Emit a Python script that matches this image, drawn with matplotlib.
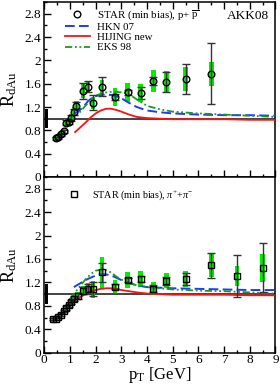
import matplotlib
matplotlib.use("Agg")
import matplotlib.pyplot as plt
from matplotlib.ticker import MultipleLocator, FuncFormatter

plt.rcParams['font.family'] = ['Liberation Serif', 'DejaVu Serif']
plt.rcParams['mathtext.fontset'] = 'custom'
plt.rcParams['mathtext.rm'] = 'Liberation Serif'
plt.rcParams['mathtext.it'] = 'Liberation Serif:italic'

# ---------------- data: top panel (p + pbar) ----------------
p_pt = [0.45, 0.55, 0.65, 0.75, 0.85, 0.95, 1.05, 1.15, 1.25, 1.5, 1.7, 1.9,
        2.25, 2.75, 3.25, 3.75, 4.25, 4.75, 5.5, 6.5]
p_r = [0.66, 0.69, 0.73, 0.78, 0.93, 0.94, 1.01, 1.12, 1.22, 1.47, 1.55, 1.27,
       1.55, 1.37, 1.45, 1.44, 1.65, 1.63, 1.68, 1.77]
p_stat = [0.03, 0.03, 0.03, 0.03, 0.04, 0.04, 0.05, 0.05, 0.06, 0.14, 0.10, 0.13,
          0.16, 0.05, 0.04, 0.10, 0.07, 0.17, 0.25, 0.52]
p_sys = [0.05, 0.05, 0.05, 0.05, 0.06, 0.06, 0.07, 0.08, 0.09, 0.12, 0.10, 0.10,
         0.12, 0.15, 0.16, 0.15, 0.19, 0.18, 0.20, 0.21]

# ---------------- data: bottom panel (pi+ + pi-) ----------------
pi_pt = [0.35, 0.45, 0.55, 0.65, 0.75, 0.85, 0.95, 1.05, 1.15, 1.3, 1.5, 1.7,
         1.9, 2.25, 2.75, 3.25, 3.75, 4.25, 4.75, 5.5, 6.5, 7.5, 8.5]
pi_r = [0.57, 0.58, 0.61, 0.65, 0.71, 0.76, 0.81, 0.87, 0.92, 0.97, 1.06, 1.09,
        1.08, 1.37, 1.13, 1.24, 1.26, 1.09, 1.23, 1.26, 1.49, 1.31, 1.45]
pi_stat = [0.02, 0.02, 0.02, 0.02, 0.02, 0.03, 0.03, 0.03, 0.04, 0.05, 0.06, 0.09,
           0.12, 0.17, 0.05, 0.04, 0.05, 0.06, 0.07, 0.10, 0.21, 0.36, 0.42]
pi_sys = [0.04, 0.04, 0.04, 0.04, 0.05, 0.05, 0.05, 0.06, 0.06, 0.07, 0.08, 0.10,
          0.14, 0.27, 0.11, 0.14, 0.14, 0.11, 0.13, 0.14, 0.20, 0.17, 0.24]

# ---------------- model curves ----------------
hkn_top_pt = [1.15, 1.3, 1.5, 1.7, 1.9, 2.1, 2.3, 2.5, 2.7, 3.0, 3.3, 3.6, 4.0, 4.5, 5, 6, 7, 8, 9]
hkn_top_r = [1.08, 1.12, 1.19, 1.30, 1.37, 1.40, 1.41, 1.41, 1.40, 1.35, 1.27, 1.20, 1.14, 1.11, 1.09, 1.07, 1.06, 1.06, 1.05]
eks_top_pt = [1.0, 1.2, 1.4, 1.6, 1.8, 2.0, 2.2, 2.4, 2.6, 2.8, 3.0, 3.3, 3.6, 4.0, 4.5, 5, 6, 7, 8, 9]
eks_top_r = [0.92, 1.02, 1.12, 1.22, 1.32, 1.39, 1.43, 1.45, 1.46, 1.46, 1.45, 1.42, 1.33, 1.22, 1.16, 1.12, 1.09, 1.07, 1.05, 1.03]
hij_top_pt = [1.2, 1.4, 1.6, 1.8, 2.0, 2.2, 2.4, 2.6, 2.8, 3.0, 3.3, 3.6, 4.0, 4.5, 5, 6, 7, 8, 9]
hij_top_r = [0.77, 0.85, 0.93, 1.02, 1.09, 1.14, 1.17, 1.17, 1.15, 1.12, 1.07, 1.03, 1.01, 1.00, 0.99, 0.99, 0.99, 0.98, 0.98]

hkn_bot_pt = [1.15, 1.3, 1.5, 1.7, 1.9, 2.1, 2.3, 2.5, 2.7, 3.0, 3.3, 3.6, 4.0, 4.5, 5, 6, 7, 8, 9]
hkn_bot_r = [1.12, 1.16, 1.21, 1.26, 1.30, 1.33, 1.34, 1.33, 1.30, 1.24, 1.19, 1.15, 1.12, 1.11, 1.10, 1.09, 1.08, 1.07, 1.07]
eks_bot_pt = [1.0, 1.2, 1.4, 1.6, 1.8, 2.0, 2.2, 2.4, 2.6, 2.8, 3.0, 3.3, 3.6, 4.0, 4.5, 5, 6, 7, 8, 9]
eks_bot_r = [0.92, 1.03, 1.14, 1.25, 1.34, 1.40, 1.42, 1.41, 1.37, 1.30, 1.25, 1.19, 1.15, 1.12, 1.10, 1.08, 1.06, 1.05, 1.03, 1.01]
hij_bot_pt = [1.0, 1.2, 1.4, 1.6, 1.8, 2.0, 2.2, 2.4, 2.6, 2.8, 3.0, 3.3, 3.6, 4.0, 4.5, 5, 6, 7, 8, 9]
hij_bot_r = [0.84, 0.89, 0.95, 1.00, 1.04, 1.07, 1.09, 1.10, 1.10, 1.09, 1.07, 1.05, 1.03, 1.01, 1.00, 0.99, 0.99, 0.99, 0.98, 0.98]

norm_unc = [0.16, 0.17]

x_ticks = [0, 1, 2, 3, 4, 5, 6, 7, 8, 9]
y_ticks = [0, 0.4, 0.8, 1.2, 1.6, 2.0, 2.4, 2.8]

fig = plt.figure(figsize=(2.8, 3.88), dpi=100)
L, R = 44.3 / 280, 275.5 / 280
ax1 = fig.add_axes([L, 1 - 177 / 388, R - L, (177 - 2) / 388])
ax2 = fig.add_axes([L, 1 - 352.7 / 388, R - L, (352.7 - 177) / 388])

GREEN = '#00ee00'


def draw_panel(ax, pt, r, stat, sys, marker, hkn, eks, hij, nu):
    ax.axhline(1.0, color='#222222', lw=1.2, zorder=1)
    ax.bar([0.075], [2 * nu], bottom=[1 - nu], width=0.1, color='black', zorder=2)
    ax.bar(pt, [2 * s for s in sys], bottom=[v - s for v, s in zip(r, sys)],
           width=0.18, color=GREEN, zorder=3)
    lh, = ax.plot(hkn[0], hkn[1], color='#1a3cff', lw=1.4, dashes=(5, 2.2), zorder=4)
    lr, = ax.plot(hij[0], hij[1], color='#ff1010', lw=1.3, zorder=4)
    le, = ax.plot(eks[0], eks[1], color='#1a9a1a', lw=1.3, dashes=(4, 1.5, 1, 1.5, 1, 1.5), zorder=4)
    ax.errorbar(pt, r, yerr=stat, fmt='none', ecolor='#333333', elinewidth=1.0,
                capsize=3.2, capthick=1.0, zorder=5)
    pm, = ax.plot(pt, r, ls='none', marker=marker, ms=4.8, mfc='none', mec='black',
                  mew=1.0, zorder=6)
    ax.set_xlim(0, 9)
    ax.set_ylim(0, 3.0)
    ax.set_xticks(x_ticks)
    ax.set_yticks(y_ticks)
    ax.xaxis.set_minor_locator(MultipleLocator(0.5))
    ax.yaxis.set_minor_locator(MultipleLocator(0.2))
    ax.tick_params(which='both', direction='in', top=True, right=False, labelsize=9.5, pad=2)
    ax.tick_params(which='major', length=5, width=1)
    ax.tick_params(which='minor', length=2.5, width=1)
    ax.yaxis.set_major_formatter(FuncFormatter(lambda v, p: '%g' % round(v, 2)))
    for s in ax.spines.values():
        s.set_linewidth(1.1)
    ax.set_ylabel(r'R$_{\rm dAu}$', fontsize=13, labelpad=4)
    return pm, lh, lr, le


pm1, lh, lr, le = draw_panel(ax1, p_pt, p_r, p_stat, p_sys, 'o',
                             (hkn_top_pt, hkn_top_r), (eks_top_pt, eks_top_r),
                             (hij_top_pt, hij_top_r), norm_unc[0])
pm2, _, _, _ = draw_panel(ax2, pi_pt, pi_r, pi_stat, pi_sys, 's',
                          (hkn_bot_pt, hkn_bot_r), (eks_bot_pt, eks_bot_r),
                          (hij_bot_pt, hij_bot_r), norm_unc[1])
ax2.tick_params(top=False, which='both')
ax1.tick_params(labelbottom=False)
ax2.tick_params(axis='x', pad=1)
ax2.set_xlabel(r'p$_{\rm T}$ [GeV]', fontsize=12, labelpad=-1)

leg1 = ax1.legend([pm1, lh, lr, le],
                  [r'STAR (min bias), p+ $\overline{\rm p}$', 'HKN 07', 'HIJING new', 'EKS 98'],
                  loc='upper left', bbox_to_anchor=(0.06, 1.0), frameon=False,
                  fontsize=7.8, handlelength=2.3, handletextpad=0.7, labelspacing=0.05,
                  borderaxespad=0.2)
ax2.legend([pm2], [r'STAR (min bias), $\pi^{+}$+$\pi^{-}$'],
           loc='upper left', bbox_to_anchor=(0.06, 0.97), frameon=False,
           fontsize=7.3, handlelength=2.0, handletextpad=0.7, borderaxespad=0.2)
ax1.text(0.97, 0.955, 'AKK08', transform=ax1.transAxes, ha='right', va='top', fontsize=9.5)

fig.savefig('out.png', dpi=100)
